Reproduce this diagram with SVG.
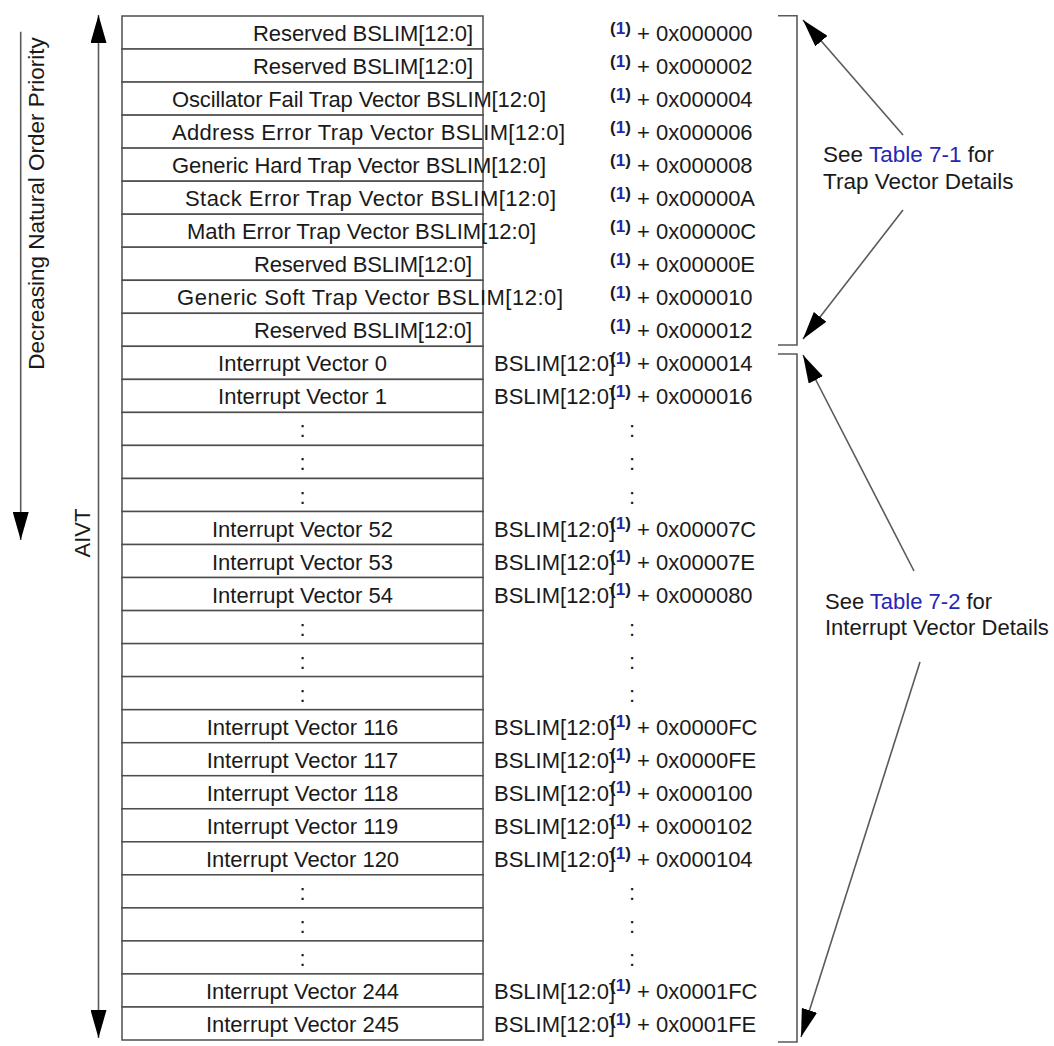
<svg xmlns="http://www.w3.org/2000/svg" width="1054" height="1046" viewBox="0 0 1054 1046">
<defs>
<style>
text{font-family:"Liberation Sans",Arial,sans-serif;font-size:22px;fill:#1a1a1a}
.c{text-anchor:middle}
.sup{font-size:17px;font-weight:bold}
.blue{fill:#2626b5}
.cell{fill:#fff;stroke:#4d4d4d;stroke-width:1.5}
.ln{stroke:#5a5a5a;stroke-width:1.6;fill:none}
</style>
<marker id="ah" markerUnits="userSpaceOnUse" markerWidth="28" markerHeight="16" viewBox="0 0 28 16" refX="28" refY="8" orient="auto-start-reverse"><path d="M0,0 L28,8 L0,16 z" fill="#000"/></marker>
</defs>
<rect width="1054" height="1046" fill="#fff"/>

<g id="row-0"><rect class="cell" x="122" y="16" width="361" height="33.03"/><text x="253" y="41" textLength="220" lengthAdjust="spacing">Reserved BSLIM[12:0]</text><text class="sup" x="610" y="33.5">(<tspan class="blue">1</tspan>)</text><text x="637" y="41">+ 0x000000</text></g>
<g id="row-1"><rect class="cell" x="122" y="49.03" width="361" height="33.03"/><text x="253" y="74" textLength="220" lengthAdjust="spacing">Reserved BSLIM[12:0]</text><text class="sup" x="610" y="66.5">(<tspan class="blue">1</tspan>)</text><text x="637" y="74">+ 0x000002</text></g>
<g id="row-2"><rect class="cell" x="122" y="82.06" width="361" height="33.03"/><text x="172" y="107.1" textLength="374" lengthAdjust="spacing">Oscillator Fail Trap Vector BSLIM[12:0]</text><text class="sup" x="610" y="99.6">(<tspan class="blue">1</tspan>)</text><text x="637" y="107.1">+ 0x000004</text></g>
<g id="row-3"><rect class="cell" x="122" y="115.1" width="361" height="33.03"/><text x="172" y="140.1" textLength="393" lengthAdjust="spacing">Address Error Trap Vector BSLIM[12:0]</text><text class="sup" x="610" y="132.6">(<tspan class="blue">1</tspan>)</text><text x="637" y="140.1">+ 0x000006</text></g>
<g id="row-4"><rect class="cell" x="122" y="148.1" width="361" height="33.03"/><text x="172" y="173.1" textLength="374" lengthAdjust="spacing">Generic Hard Trap Vector BSLIM[12:0]</text><text class="sup" x="610" y="165.6">(<tspan class="blue">1</tspan>)</text><text x="637" y="173.1">+ 0x000008</text></g>
<g id="row-5"><rect class="cell" x="122" y="181.2" width="361" height="33.03"/><text x="185" y="206.2" textLength="371" lengthAdjust="spacing">Stack Error Trap Vector BSLIM[12:0]</text><text class="sup" x="610" y="198.7">(<tspan class="blue">1</tspan>)</text><text x="637" y="206.2">+ 0x00000A</text></g>
<g id="row-6"><rect class="cell" x="122" y="214.2" width="361" height="33.03"/><text x="187" y="239.2" textLength="349" lengthAdjust="spacing">Math Error Trap Vector BSLIM[12:0]</text><text class="sup" x="610" y="231.7">(<tspan class="blue">1</tspan>)</text><text x="637" y="239.2">+ 0x00000C</text></g>
<g id="row-7"><rect class="cell" x="122" y="247.2" width="361" height="33.03"/><text x="254" y="272.2" textLength="218" lengthAdjust="spacing">Reserved BSLIM[12:0]</text><text class="sup" x="610" y="264.7">(<tspan class="blue">1</tspan>)</text><text x="637" y="272.2">+ 0x00000E</text></g>
<g id="row-8"><rect class="cell" x="122" y="280.3" width="361" height="33.03"/><text x="177" y="305.3" textLength="386" lengthAdjust="spacing">Generic Soft Trap Vector BSLIM[12:0]</text><text class="sup" x="610" y="297.8">(<tspan class="blue">1</tspan>)</text><text x="637" y="305.3">+ 0x000010</text></g>
<g id="row-9"><rect class="cell" x="122" y="313.3" width="361" height="33.03"/><text x="254" y="338.3" textLength="218" lengthAdjust="spacing">Reserved BSLIM[12:0]</text><text class="sup" x="610" y="330.8">(<tspan class="blue">1</tspan>)</text><text x="637" y="338.3">+ 0x000012</text></g>

<g id="row-10"><rect class="cell" x="122" y="346.3" width="361" height="33.03"/><text class="c" x="302.5" y="371.3">Interrupt Vector 0</text><text x="494" y="371.3">BSLIM[12:0]</text><text class="sup" x="610" y="363.8">(<tspan class="blue">1</tspan>)</text><text x="637" y="371.3">+ 0x000014</text></g>
<g id="row-11"><rect class="cell" x="122" y="379.4" width="361" height="33.03"/><text class="c" x="302.5" y="404.4">Interrupt Vector 1</text><text x="494" y="404.4">BSLIM[12:0]</text><text class="sup" x="610" y="396.9">(<tspan class="blue">1</tspan>)</text><text x="637" y="404.4">+ 0x000016</text></g>
<g id="row-12"><rect class="cell" x="122" y="412.4" width="361" height="33.03"/><text class="c" x="302.5" y="437.4">:</text><text class="c" x="632" y="437.4">:</text></g>
<g id="row-13"><rect class="cell" x="122" y="445.4" width="361" height="33.03"/><text class="c" x="302.5" y="470.4">:</text><text class="c" x="632" y="470.4">:</text></g>
<g id="row-14"><rect class="cell" x="122" y="478.5" width="361" height="33.03"/><text class="c" x="302.5" y="503.5">:</text><text class="c" x="632" y="503.5">:</text></g>
<g id="row-15"><rect class="cell" x="122" y="511.5" width="361" height="33.03"/><text class="c" x="302.5" y="536.5">Interrupt Vector 52</text><text x="494" y="536.5">BSLIM[12:0]</text><text class="sup" x="610" y="529">(<tspan class="blue">1</tspan>)</text><text x="637" y="536.5">+ 0x00007C</text></g>
<g id="row-16"><rect class="cell" x="122" y="544.5" width="361" height="33.03"/><text class="c" x="302.5" y="569.5">Interrupt Vector 53</text><text x="494" y="569.5">BSLIM[12:0]</text><text class="sup" x="610" y="562">(<tspan class="blue">1</tspan>)</text><text x="637" y="569.5">+ 0x00007E</text></g>
<g id="row-17"><rect class="cell" x="122" y="577.5" width="361" height="33.03"/><text class="c" x="302.5" y="602.5">Interrupt Vector 54</text><text x="494" y="602.5">BSLIM[12:0]</text><text class="sup" x="610" y="595">(<tspan class="blue">1</tspan>)</text><text x="637" y="602.5">+ 0x000080</text></g>
<g id="row-18"><rect class="cell" x="122" y="610.6" width="361" height="33.03"/><text class="c" x="302.5" y="635.6">:</text><text class="c" x="632" y="635.6">:</text></g>
<g id="row-19"><rect class="cell" x="122" y="643.6" width="361" height="33.03"/><text class="c" x="302.5" y="668.6">:</text><text class="c" x="632" y="668.6">:</text></g>
<g id="row-20"><rect class="cell" x="122" y="676.6" width="361" height="33.03"/><text class="c" x="302.5" y="701.6">:</text><text class="c" x="632" y="701.6">:</text></g>
<g id="row-21"><rect class="cell" x="122" y="709.7" width="361" height="33.03"/><text class="c" x="302.5" y="734.7">Interrupt Vector 116</text><text x="494" y="734.7">BSLIM[12:0]</text><text class="sup" x="610" y="727.2">(<tspan class="blue">1</tspan>)</text><text x="637" y="734.7">+ 0x0000FC</text></g>
<g id="row-22"><rect class="cell" x="122" y="742.7" width="361" height="33.03"/><text class="c" x="302.5" y="767.7">Interrupt Vector 117</text><text x="494" y="767.7">BSLIM[12:0]</text><text class="sup" x="610" y="760.2">(<tspan class="blue">1</tspan>)</text><text x="637" y="767.7">+ 0x0000FE</text></g>
<g id="row-23"><rect class="cell" x="122" y="775.7" width="361" height="33.03"/><text class="c" x="302.5" y="800.7">Interrupt Vector 118</text><text x="494" y="800.7">BSLIM[12:0]</text><text class="sup" x="610" y="793.2">(<tspan class="blue">1</tspan>)</text><text x="637" y="800.7">+ 0x000100</text></g>
<g id="row-24"><rect class="cell" x="122" y="808.8" width="361" height="33.03"/><text class="c" x="302.5" y="833.8">Interrupt Vector 119</text><text x="494" y="833.8">BSLIM[12:0]</text><text class="sup" x="610" y="826.3">(<tspan class="blue">1</tspan>)</text><text x="637" y="833.8">+ 0x000102</text></g>
<g id="row-25"><rect class="cell" x="122" y="841.8" width="361" height="33.03"/><text class="c" x="302.5" y="866.8">Interrupt Vector 120</text><text x="494" y="866.8">BSLIM[12:0]</text><text class="sup" x="610" y="859.3">(<tspan class="blue">1</tspan>)</text><text x="637" y="866.8">+ 0x000104</text></g>
<g id="row-26"><rect class="cell" x="122" y="874.8" width="361" height="33.03"/><text class="c" x="302.5" y="899.8">:</text><text class="c" x="632" y="899.8">:</text></g>
<g id="row-27"><rect class="cell" x="122" y="907.9" width="361" height="33.03"/><text class="c" x="302.5" y="932.9">:</text><text class="c" x="632" y="932.9">:</text></g>
<g id="row-28"><rect class="cell" x="122" y="940.9" width="361" height="33.03"/><text class="c" x="302.5" y="965.9">:</text><text class="c" x="632" y="965.9">:</text></g>
<g id="row-29"><rect class="cell" x="122" y="973.9" width="361" height="33.03"/><text class="c" x="302.5" y="998.9">Interrupt Vector 244</text><text x="494" y="998.9">BSLIM[12:0]</text><text class="sup" x="610" y="991.4">(<tspan class="blue">1</tspan>)</text><text x="637" y="998.9">+ 0x0001FC</text></g>
<g id="row-30"><rect class="cell" x="122" y="1007" width="361" height="33"/><text class="c" x="302.5" y="1032">Interrupt Vector 245</text><text x="494" y="1032">BSLIM[12:0]</text><text class="sup" x="610" y="1024.5">(<tspan class="blue">1</tspan>)</text><text x="637" y="1032">+ 0x0001FE</text></g>

<g id="label-priority"><text class="c" style="font-size:22.5px" transform="translate(44,203.5) rotate(-90)">Decreasing Natural Order Priority</text></g>
<g id="label-aivt"><text class="c" transform="translate(90,533) rotate(-90)">AIVT</text></g>
<g id="note-trap"><text x="823" y="162" style="font-size:22.5px">See <tspan class="blue">Table 7-1</tspan> for</text><text x="823" y="188.5" style="font-size:22.5px">Trap Vector Details</text></g>
<g id="note-int"><text x="825" y="609">See <tspan class="blue">Table 7-2</tspan> for</text><text x="825" y="635">Interrupt Vector Details</text></g>

<g id="connectors">
<line class="ln" x1="20.7" y1="31.7" x2="20.7" y2="540" marker-end="url(#ah)"/>
<line class="ln" x1="98.5" y1="15" x2="98.5" y2="1038" marker-start="url(#ah)" marker-end="url(#ah)"/>
<path class="ln" d="M778,15.8 H797 V345 H778"/>
<path class="ln" d="M778,354 H797 V1042 H778"/>
<line class="ln" x1="903" y1="135" x2="803" y2="20" marker-end="url(#ah)"/>
<line class="ln" x1="903" y1="210" x2="803" y2="339" marker-end="url(#ah)"/>
<line class="ln" x1="914" y1="571" x2="803" y2="355" marker-end="url(#ah)"/>
<line class="ln" x1="920" y1="662" x2="801" y2="1037" marker-end="url(#ah)"/>
</g>
</svg>
